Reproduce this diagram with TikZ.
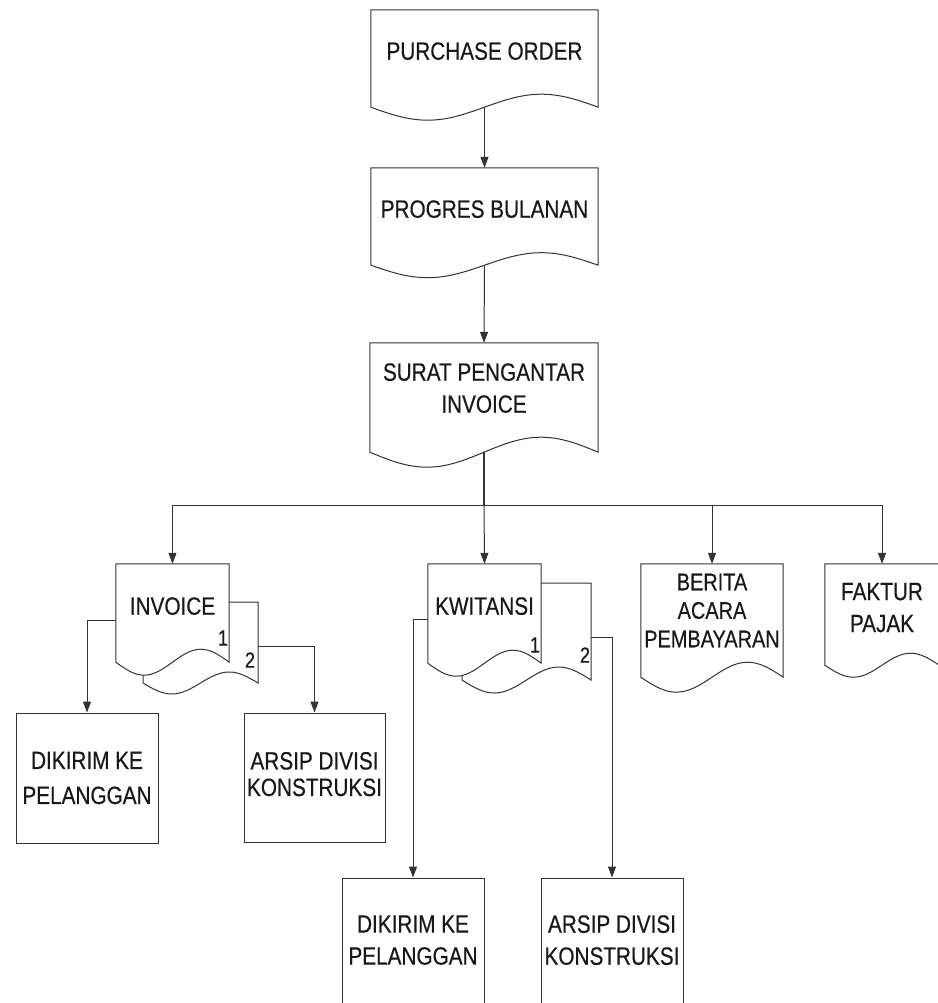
\documentclass[tikz,border=0pt]{standalone}
\usepackage{fontspec}
\setmainfont{Liberation Sans}[FakeStretch=0.83,FakeBold=0.4]
\usetikzlibrary{arrows.meta,calc}
\pgfdeclarelayer{background}
\pgfsetlayers{background,main}
\newcommand\up[1]{\rule[-#1pt]{0pt}{#1pt}}
\newcommand\docshape[2]{%
  \path[docline] let \p1=(#1.south west), \p2=(#1.south east), \n1={(\x2-\x1)/4} in
    (#1.south west) -- (#1.north west) -- (#1.north east) -- (\p2)
    sin ++(-\n1,#2) cos ++(-\n1,-#2) sin ++(-\n1,-#2) cos ++(-\n1,#2) -- cycle;}
\tikzset{
  ink/.style={draw=black!80, line width=1pt},
  docline/.style={ink, fill=white},
  doc/.style={inner sep=0pt, align=center, text=black!90, font=\fontsize{25}{32}\selectfont},
  box/.style={ink, inner sep=0pt, align=center, text=black!90, font=\fontsize{25}{32}\selectfont},
  num/.style={inner sep=0pt, text=black!90, font=\fontsize{22}{24}\selectfont},
  arr/.style={ink, -{Triangle[length=11pt,width=8pt]}},
  conn/.style={ink}
}
\begin{document}
\begin{tikzpicture}[x=1pt,y=1pt]
\useasboundingbox (0,0) rectangle (937,-1003);
% document nodes (body = top edge to wave base line)
\node[doc, minimum width=227pt, minimum height=97pt] (po) at (484.5,-58.5) {PURCHASE ORDER\up{15}};
\node[doc, minimum width=227pt, minimum height=97pt] (pb) at (484.5,-216.5) {PROGRES BULANAN\up{15}};
\node[doc, minimum width=228pt, minimum height=109pt] (sp) at (484,-397.5) {SURAT PENGANTAR\\INVOICE\up{19}};
\node[doc, minimum width=113pt, minimum height=98pt] (inv) at (172.5,-613) {INVOICE\up{14}};
\node[doc, minimum width=113pt, minimum height=99pt] (kw) at (484.5,-613.5) {KWITANSI\up{15}};
\node[doc, minimum width=142pt, minimum height=113pt, font=\fontsize{24}{28.5}\selectfont] (ba) at (712,-620.5) {BERITA\\ACARA\\PEMBAYARAN\up{20}};
\node[doc, minimum width=114pt, minimum height=101pt] (fp) at (882,-614.5) {FAKTUR\\PAJAK\up{14}};
% copy numbers
\node[num] (inv1) at (223,-638) {1};
\node[num] (inv2) at (250,-660) {2};
\node[num] (kw1) at (535,-645) {1};
\node[num] (kw2) at (585,-655) {2};
% process boxes
\node[box, minimum width=142pt, minimum height=130pt, font=\fontsize{25}{35}\selectfont] (d1) at (87,-778) {DIKIRIM KE\\PELANGGAN};
\node[box, minimum width=141pt, minimum height=129pt, font=\fontsize{25}{26.5}\selectfont] (a1) at (314.5,-777.5) {ARSIP DIVISI\\KONSTRUKSI\up{7}};
\node[box, minimum width=142pt, minimum height=130pt] (d2) at (413,-943) {DIKIRIM KE\\PELANGGAN\up{6}};
\node[box, minimum width=142pt, minimum height=130pt] (a2) at (612,-943) {ARSIP DIVISI\\KONSTRUKSI\up{6}};
% outlines
\begin{pgfonlayer}{background}
\fill[white] (0,0) rectangle (937,-1003);
% back pages of the multi-copy documents
\path[docline] (229,-602) -- (258,-602) -- (258,-683)
  sin ++(-28.75,11) cos ++(-28.75,-11) sin ++(-28.75,-11) cos ++(-28.75,11)
  -- (143,-602) -- cycle;
\path[docline] (541,-583) -- (591,-583) -- (591,-680)
  sin ++(-32.25,13) cos ++(-32.25,-13) sin ++(-32.25,-13) cos ++(-32.25,13)
  -- (462,-583) -- cycle;
\docshape{po}{13}
\docshape{pb}{12.5}
\docshape{sp}{15}
\docshape{inv}{13}
\docshape{kw}{13}
\docshape{ba}{15}
\docshape{fp}{12}
\end{pgfonlayer}
% connectors
\coordinate (bus) at ($(sp.south)+(0,-53)$);
\draw[arr] (po.south) -- (pb.north);
\draw[arr] (pb.south) -- (sp.north);
\draw[conn, line width=1.6pt] (sp.south) -- (bus);
\draw[arr] (bus) -- (kw.north);
\draw[arr] (bus) -| (inv.north);
\draw[arr] (bus) -| (ba.north);
\draw[arr] (bus) -| (fp.north);
\draw[arr] ([yshift=-57pt]inv.north west) -| (d1.north);
\draw[arr] ([shift={(29pt,-83pt)}]inv.north east) -| (a1.north);
\draw[arr] ([yshift=-56pt]kw.north west) -| (d2.north);
\draw[arr] ([shift={(50pt,-74pt)}]kw.north east) -| (a2.north);
\end{tikzpicture}
\end{document}
